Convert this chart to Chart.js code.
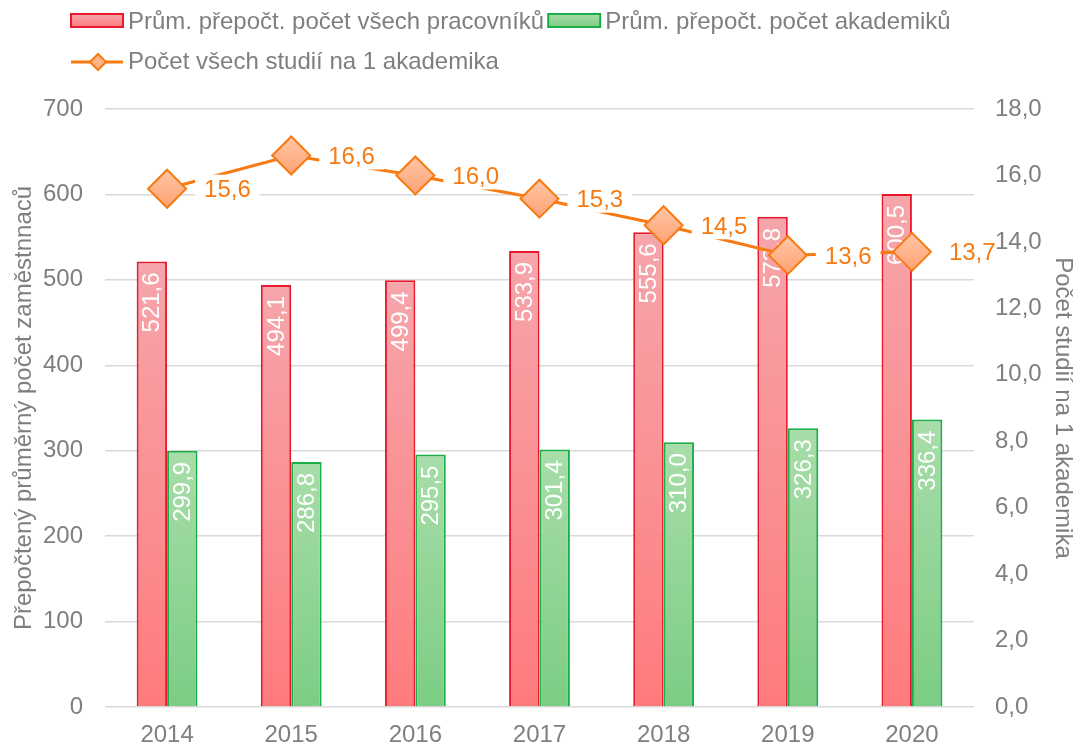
<!DOCTYPE html>
<html lang="cs">
<head>
    <meta charset="UTF-8">
    <title>Pracovníci a akademici</title>
    <script src="https://cdn.jsdelivr.net/npm/chart.js"></script>
</head>
<body style="margin: 0; background: #fff;">
    <div style="width: 1079px; height: 747px; position: relative;">
        <canvas id="staffChart"></canvas>
    </div>
    <script>
        const years = ['2014', '2015', '2016', '2017', '2018', '2019', '2020'];
        const allStaff = [521.6, 494.1, 499.4, 533.9, 555.6, 573.8, 600.5];
        const academics = [299.9, 286.8, 295.5, 301.4, 310.0, 326.3, 336.4];
        const studiesPerAcademic = [15.6, 16.6, 16.0, 15.3, 14.5, 13.6, 13.7];
        const seriesNames = [
            'Prům. přepočt. počet všech pracovníků',
            'Prům. přepočt. počet akademiků',
            'Počet všech studií na 1 akademika'
        ];
        const leftTitle = 'Přepočtený průměrný počet zaměstnnaců';
        const rightTitle = 'Počet studií na 1 akademika';

        const grey = '#7F7F7F';
        const redLine = '#E8192C', redTop = '#F5A6AB', redBottom = '#FF7B7D';
        const greenLine = '#1BAE48', greenTop = '#A8DDA9', greenBottom = '#7CCD84';
        const orange = '#F77A12', peachTop = '#FFC6A5', peachBottom = '#FFA274';
        const FONT = '24px "Liberation Sans", Arial, sans-serif';

        Chart.defaults.font.family = '"Liberation Sans", Arial, sans-serif';
        Chart.defaults.font.size = 24;
        Chart.defaults.color = grey;

        const fmt = v => Number(v).toFixed(1).replace('.', ',');

        function barFill(top, bottom) {
            return function (c) {
                const chart = c.chart;
                if (!chart.chartArea || c.type !== 'data') return bottom;
                const y = chart.scales.y;
                const g = chart.ctx.createLinearGradient(0, y.getPixelForValue(c.raw), 0, y.getPixelForValue(0));
                g.addColorStop(0, top);
                g.addColorStop(1, bottom);
                return g;
            };
        }

        function pointFill(c) {
            const chart = c.chart;
            if (!chart.chartArea || c.type !== 'data') return peachBottom;
            const py = chart.scales.y1.getPixelForValue(c.raw);
            const g = chart.ctx.createLinearGradient(0, py - 19, 0, py + 19);
            g.addColorStop(0, peachTop);
            g.addColorStop(1, peachBottom);
            return g;
        }

        // labels inside bars (white, rotated), beside the line points, and the legend
        const labelPlugin = {
            id: 'labels',
            afterDatasetDraw(chart, args) {
                if (args.meta.type !== 'bar') return;
                const ctx = chart.ctx;
                ctx.save();
                ctx.font = FONT;
                ctx.fillStyle = '#fff';
                ctx.textAlign = 'right';
                ctx.textBaseline = 'middle';
                args.meta.data.forEach((bar, i) => {
                    ctx.save();
                    ctx.translate(bar.x + 1, bar.y + 11);
                    ctx.rotate(-Math.PI / 2);
                    ctx.fillText(fmt(chart.data.datasets[args.index].data[i]), 0, 0);
                    ctx.restore();
                });
                ctx.restore();
            },
            afterDatasetsDraw(chart) {
                const meta = chart.getDatasetMeta(2);
                const ctx = chart.ctx;
                const area = chart.chartArea;
                ctx.save();
                ctx.font = FONT;
                ctx.textAlign = 'left';
                ctx.textBaseline = 'middle';
                meta.data.forEach((pt, i) => {
                    const txt = fmt(studiesPerAcademic[i]);
                    const w = ctx.measureText(txt).width;
                    const x0 = pt.x + 28;
                    const x1 = Math.min(x0 + w + 18, area.right);
                    ctx.fillStyle = '#fff';
                    ctx.fillRect(x0, pt.y - 14, x1 - x0, 28);
                    ctx.fillStyle = orange;
                    ctx.fillText(txt, pt.x + 37, pt.y + 2);
                });
                ctx.restore();
            },
            afterDraw(chart) {
                const ctx = chart.ctx;
                ctx.save();
                ctx.font = FONT;
                ctx.textBaseline = 'middle';
                ctx.textAlign = 'left';
                const box = (x, y, top, bottom, line) => {
                    const g = ctx.createLinearGradient(0, y - 6, 0, y + 7);
                    g.addColorStop(0, top);
                    g.addColorStop(1, bottom);
                    ctx.fillStyle = g;
                    ctx.fillRect(x, y - 6, 52, 13);
                    ctx.strokeStyle = line;
                    ctx.lineWidth = 2;
                    ctx.strokeRect(x, y - 6, 52, 13);
                };
                let x = 71;
                box(x, 20, redTop, redBottom, redLine);
                ctx.fillStyle = grey;
                ctx.fillText(seriesNames[0], x + 57, 22);
                x = x + 57 + ctx.measureText(seriesNames[0]).width + 4;
                box(x, 20, greenTop, greenBottom, greenLine);
                ctx.fillStyle = grey;
                ctx.fillText(seriesNames[1], x + 57, 22);

                const y2 = 62;
                ctx.strokeStyle = orange;
                ctx.lineWidth = 3;
                ctx.beginPath();
                ctx.moveTo(71, y2);
                ctx.lineTo(123, y2);
                ctx.stroke();
                ctx.beginPath();
                ctx.moveTo(98 - 8, y2);
                ctx.lineTo(98, y2 - 8);
                ctx.lineTo(98 + 8, y2);
                ctx.lineTo(98, y2 + 8);
                ctx.closePath();
                ctx.fillStyle = '#FFB389';
                ctx.fill();
                ctx.lineWidth = 2;
                ctx.stroke();
                ctx.fillStyle = grey;
                ctx.fillText(seriesNames[2], 128, y2);
                ctx.restore();
            }
        };

        const ctx = document.getElementById('staffChart').getContext('2d');
        new Chart(ctx, {
            type: 'bar',
            data: {
                labels: years,
                datasets: [
                    {
                        label: seriesNames[0],
                        data: allStaff,
                        backgroundColor: barFill(redTop, redBottom),
                        borderColor: redLine,
                        borderWidth: 2,
                        yAxisID: 'y',
                        order: 1,
                        categoryPercentage: 0.49,
                        barPercentage: 1
                    },
                    {
                        label: seriesNames[1],
                        data: academics,
                        backgroundColor: barFill(greenTop, greenBottom),
                        borderColor: greenLine,
                        borderWidth: 2,
                        yAxisID: 'y',
                        order: 1,
                        categoryPercentage: 0.49,
                        barPercentage: 1
                    },
                    {
                        type: 'line',
                        label: seriesNames[2],
                        data: studiesPerAcademic,
                        borderColor: orange,
                        borderWidth: 3,
                        pointStyle: 'rectRot',
                        pointRadius: 19,
                        pointHoverRadius: 19,
                        pointBackgroundColor: pointFill,
                        pointBorderColor: orange,
                        pointBorderWidth: 2,
                        tension: 0,
                        yAxisID: 'y1',
                        order: 0
                    }
                ]
            },
            options: {
                responsive: true,
                maintainAspectRatio: false,
                animation: false,
                layout: { padding: { top: 109, left: 0, right: 0, bottom: 0 } },
                plugins: {
                    legend: { display: false },
                    tooltip: { enabled: false }
                },
                scales: {
                    x: {
                        grid: { display: false },
                        border: { display: false },
                        ticks: { padding: 6 },
                        afterFit: s => { s.height = 40; }
                    },
                    y: {
                        position: 'left',
                        min: 0,
                        max: 700,
                        ticks: { stepSize: 100, padding: 22 },
                        grid: { color: '#D9D9D9', lineWidth: 1.5, drawTicks: false },
                        border: { display: false },
                        title: { display: true, text: leftTitle, padding: { top: 10, bottom: 0 } },
                        afterFit: s => { s.width = 105; }
                    },
                    y1: {
                        position: 'right',
                        min: 0,
                        max: 18,
                        ticks: { stepSize: 2, padding: 21, callback: v => fmt(v) },
                        grid: { display: false, drawTicks: false },
                        border: { display: false },
                        title: { display: true, text: rightTitle, padding: { top: 2, bottom: 0 } },
                        afterFit: s => { s.width = 105; }
                    }
                }
            },
            plugins: [labelPlugin]
        });
    </script>
</body>
</html>
